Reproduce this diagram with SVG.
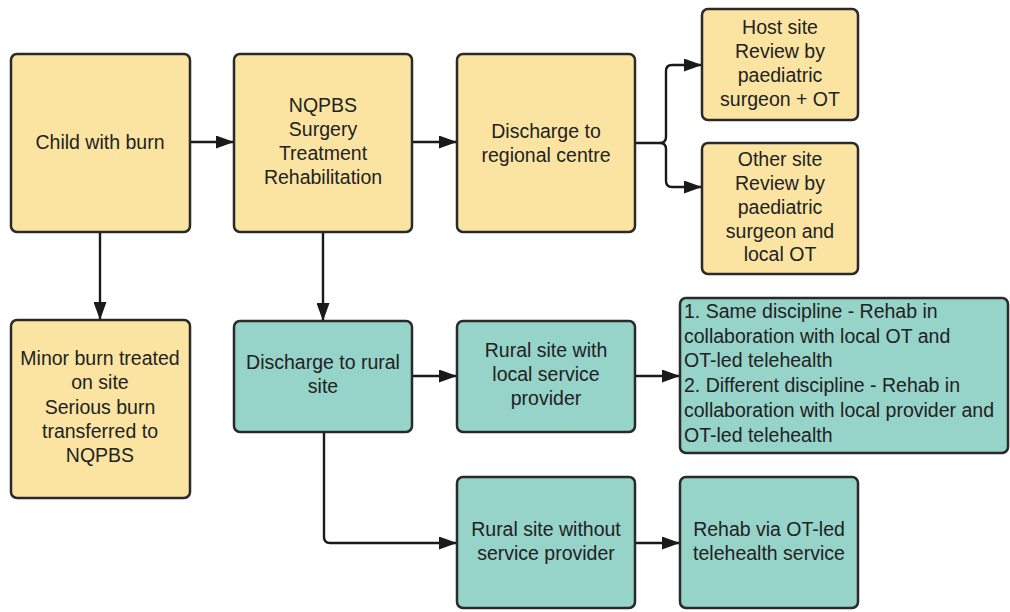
<svg xmlns="http://www.w3.org/2000/svg" width="1010" height="612" viewBox="0 0 1010 612">
<defs>
<marker id="ah" viewBox="0 0 18 13" refX="18" refY="6.5" markerWidth="18" markerHeight="13" markerUnits="userSpaceOnUse" orient="auto">
<path d="M0,0 L18,6.5 L0,13 z" fill="#1a1a1a"/>
</marker>
<style>
.y{fill:#FBE4A2;stroke:#2a2a2a;stroke-width:2.5}
.t{fill:#96D3C9;stroke:#2a2a2a;stroke-width:2.5}
text{font-family:"Liberation Sans",Arial,sans-serif;font-size:19.5px;fill:#222;text-anchor:middle}
.l{text-anchor:start}
.c{fill:none;stroke:#1a1a1a;stroke-width:2.4;marker-end:url(#ah)}
</style>
</defs>
<rect width="1010" height="612" fill="#fff"/>
<g id="connectors">
<path class="c" d="M190,142 H234"/>
<path class="c" d="M412,142 H457"/>
<path class="c" d="M635,143 H660 Q666,143 666,137 V71 Q666,65 672,65 H702"/>
<path class="c" d="M660,143 Q666,143 666,149 V181 Q666,187 672,187 H702"/>
<path class="c" d="M100,232 V320"/>
<path class="c" d="M323,232 V321"/>
<path class="c" d="M412,376 H457"/>
<path class="c" d="M635,376 H680"/>
<path class="c" d="M324,432 V537 Q324,543 330,543 H457"/>
<path class="c" d="M635,543 H680"/>
</g>
<g id="n1"><rect class="y" x="11" y="54" width="179" height="178" rx="6"/><text x="100" y="149">Child with burn</text></g>
<g id="n2"><rect class="y" x="234" y="54" width="178" height="178" rx="6"/>
<text x="323" y="112">NQPBS</text><text x="323" y="136">Surgery</text><text x="323" y="160">Treatment</text><text x="323" y="184">Rehabilitation</text></g>
<g id="n3"><rect class="y" x="457" y="54" width="178" height="178" rx="6"/>
<text x="546" y="138">Discharge to</text><text x="546" y="162">regional centre</text></g>
<g id="n4"><rect class="y" x="702" y="9" width="156" height="111" rx="6"/>
<text x="780" y="34">Host site</text><text x="780" y="58">Review by</text><text x="780" y="82">paediatric</text><text x="780" y="106">surgeon + OT</text></g>
<g id="n5"><rect class="y" x="702" y="143" width="156" height="131" rx="6"/>
<text x="780" y="166">Other site</text><text x="780" y="190">Review by</text><text x="780" y="214">paediatric</text><text x="780" y="238">surgeon and</text><text x="780" y="261">local OT</text></g>
<g id="n6"><rect class="y" x="11" y="320" width="179" height="178" rx="6"/>
<text x="100" y="365">Minor burn treated</text><text x="100" y="389">on site</text><text x="100" y="414">Serious burn</text><text x="100" y="438">transferred to</text><text x="100" y="462">NQPBS</text></g>
<g id="n7"><rect class="t" x="234" y="321" width="178" height="111" rx="6"/>
<text x="323" y="369">Discharge to rural</text><text x="323" y="393">site</text></g>
<g id="n8"><rect class="t" x="457" y="321" width="178" height="111" rx="6"/>
<text x="546" y="357">Rural site with</text><text x="546" y="381">local service</text><text x="546" y="405">provider</text></g>
<g id="n9"><rect class="t" x="680" y="298" width="328" height="155" rx="6"/>
<text class="l" x="684" y="318">1. Same discipline - Rehab in</text>
<text class="l" x="684" y="343">collaboration with local OT and</text>
<text class="l" x="684" y="367">OT-led telehealth</text>
<text class="l" x="684" y="392">2. Different discipline - Rehab in</text>
<text class="l" x="684" y="417">collaboration with local provider and</text>
<text class="l" x="684" y="442">OT-led telehealth</text></g>
<g id="n10"><rect class="t" x="457" y="477" width="178" height="131" rx="6"/>
<text x="546" y="536">Rural site without</text><text x="546" y="560">service provider</text></g>
<g id="n11"><rect class="t" x="680" y="477" width="178" height="131" rx="6"/>
<text x="769" y="536">Rehab via OT-led</text><text x="769" y="560">telehealth service</text></g>
</svg>
